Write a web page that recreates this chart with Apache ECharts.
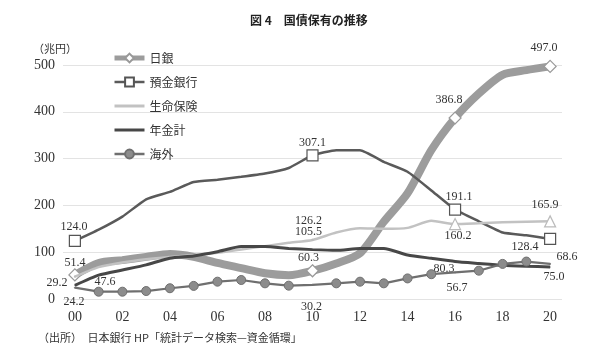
<!DOCTYPE html>
<html><head><meta charset="utf-8">
<script src="https://cdn.jsdelivr.net/npm/echarts@6/dist/echarts.min.js"></script>
<style>html,body{margin:0;padding:0;background:#fff}#c{width:600px;height:361px}</style>
</head><body><div id="c"></div>
<script>
const years = ['00','01','02','03','04','05','06','07','08','09','10','11','12','13','14','15','16','17','18','19','20'];
const seriesNames = ['日銀','預金銀行','生命保険','年金計','海外'];
const boj      = [51.4, 77, 83, 90, 96, 90, 77, 66, 55, 51, 60.3, 76, 98, 165, 226, 318, 386.8, 439, 479, 489, 497.0];
const banks    = [124.0, 148, 176, 213, 229, 250, 255, 261, 268, 280, 307.1, 318, 318, 293, 272, 232, 191.1, 166, 142, 136, 128.4];
const life     = [47.6, 68, 78, 85, 90, 94, 99, 106, 113, 120, 126.2, 142, 151, 150, 152, 167, 160.2, 162, 164, 165, 165.9];
const pension  = [29.2, 51, 62, 73, 87, 92, 101, 112, 112, 108, 105.5, 104, 108, 108, 94, 87, 80.3, 76, 72, 70, 68.6];
const overseas = [24.2, 15.6, 15.6, 17, 23, 28, 37, 40.6, 33.5, 28.5, 30.2, 33.5, 37, 33.5, 44, 53, 56.7, 60.5, 75, 80, 75.0];
const yTicks = [0, 100, 200, 300, 400, 500];

const LBL = "'Liberation Serif','DejaVu Serif',serif";
const JP = "'Noto Sans CJK JP',sans-serif";

function build(vals, marks, sym, size, labels) {
  return vals.map((v, i) => {
    const item = { value: v };
    if (marks.includes(i)) { item.symbol = sym; item.symbolSize = size; }
    else if (labels[i]) { item.symbol = 'circle'; item.symbolSize = 1; }
    else if (sym !== 'circleAll') { item.symbol = 'none'; }
    if (labels[i]) item.label = { show: true, position: 'inside', offset: labels[i] };
    return item;
  });
}
const lab = { fontFamily: LBL, fontSize: 12, color: '#333', formatter: p => Number(p.value).toFixed(1) };

const chart = echarts.init(document.getElementById('c'), null, { renderer: 'canvas' });
chart.setOption({
  animation: false,
  backgroundColor: '#fff',
  title: { text: '図 4　国債保有の推移', left: 245, top: 9,
    textStyle: { fontFamily: JP, fontSize: 12, fontWeight: 'bold', color: '#222' } },
  legend: {
    orient: 'vertical', left: 107, top: 47, itemWidth: 30, itemHeight: 11, itemGap: 12,
    data: [
      { name: '日銀', lineStyle: { width: 5, color: '#9c9c9c' } },
      { name: '預金銀行', lineStyle: { width: 2.5 } },
      { name: '生命保険', lineStyle: { width: 3 }, itemStyle: { opacity: 0 } },
      { name: '年金計', lineStyle: { width: 3 }, itemStyle: { opacity: 0 } },
      { name: '海外', lineStyle: { width: 2.5 } }
    ],
    textStyle: { fontFamily: JP, fontSize: 12, color: '#333', lineHeight: 11 }
  },
  graphic: [
    { type: 'text', left: 33, top: 43, style: { text: '（兆円）', font: "11px 'Noto Sans CJK JP'", fill: '#333' } },
    { type: 'text', left: 38, top: 332, style: { text: '（出所）　日本銀行 HP「統計データ検索—資金循環」', font: "11px 'Noto Sans CJK JP'", fill: '#333' } }
  ],
  grid: { left: 63, right: 38, top: 65, bottom: 62, containLabel: false },
  xAxis: {
    type: 'category', data: years, boundaryGap: true,
    axisLine: { show: false }, axisTick: { show: false },
    axisLabel: { interval: 1, margin: 11, fontFamily: LBL, fontSize: 14, color: '#333' }
  },
  yAxis: {
    type: 'value', min: yTicks[0], max: yTicks[yTicks.length - 1], interval: 100,
    axisLine: { show: false }, axisTick: { show: false },
    axisLabel: { margin: 8, fontFamily: LBL, fontSize: 14, color: '#333' },
    splitLine: { lineStyle: { color: '#e3e3e3', width: 1 } }
  },
  series: [
    { name: seriesNames[0], type: 'line', smooth: 0.25, showAllSymbol: true, symbol: 'diamond', symbolSize: 12, z: 2,
      lineStyle: { color: '#9c9c9c', width: 8 },
      itemStyle: { color: '#fff', borderColor: '#999', borderWidth: 1.2 },
      label: lab,
      data: build(boj, [0, 10, 16, 20], 'diamond', 12, { 0: [0, -12], 10: [-4, -13], 16: [-6, -18], 20: [-6, -19] }) },
    { name: seriesNames[1], type: 'line', smooth: 0.15, showAllSymbol: true, symbol: 'rect', symbolSize: 11, z: 3,
      lineStyle: { color: '#5a5a5a', width: 2.5 },
      itemStyle: { color: '#fff', borderColor: '#555', borderWidth: 1.2 },
      label: lab,
      data: build(banks, [0, 10, 16, 20], 'rect', 11, { 0: [-1, -14], 10: [0, -12], 16: [4, -13], 20: [-25, 8] }) },
    { name: seriesNames[2], type: 'line', smooth: 0.2, showAllSymbol: true, symbol: 'none', z: 4,
      lineStyle: { color: '#c2c2c2', width: 2.5 },
      itemStyle: { color: '#fff', borderColor: '#bbb', borderWidth: 1.2 },
      label: lab,
      data: build(life, [16, 20], 'triangle', 11, { 0: [30, 5], 10: [-4, -19], 16: [3, 12], 20: [-5, -17] }) },
    { name: seriesNames[3], type: 'line', smooth: 0.2, showAllSymbol: true, symbol: 'none', z: 5,
      lineStyle: { color: '#474747', width: 3 },
      itemStyle: { color: '#474747' },
      label: lab,
      data: build(pension, [], 'circle', 1, { 0: [-18, -2], 10: [-4, -18], 16: [-11, 7], 20: [17, -10] }) },
    { name: seriesNames[4], type: 'line', smooth: 0, showAllSymbol: true, symbol: 'circle', symbolSize: 9, z: 6,
      lineStyle: { color: '#6f6f6f', width: 2.2 },
      itemStyle: { color: '#8c8c8c', borderColor: '#6f6f6f', borderWidth: 1 },
      label: lab,
      data: build(overseas, [], 'circleAll', 9, { 0: [-1, 14], 10: [-1, 22], 16: [2, 15], 20: [4, 13] }) }
  ]
});
</script></body></html>
